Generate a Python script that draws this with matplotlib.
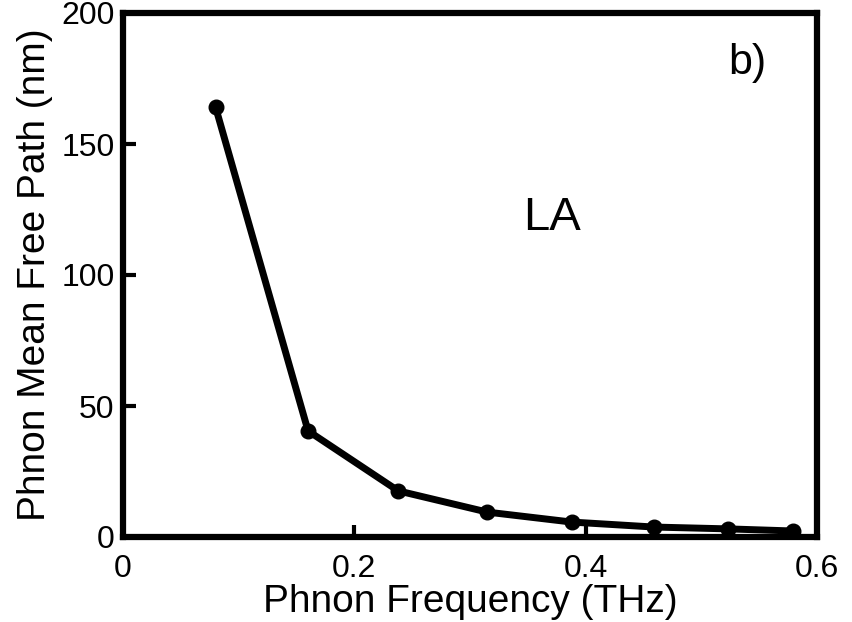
import matplotlib
matplotlib.use("Agg")
import matplotlib.pyplot as plt

freq = [0.080, 0.160, 0.238, 0.315, 0.388, 0.459, 0.523, 0.579]
mfp = [164.1, 40.5, 17.6, 9.5, 5.7, 3.8, 3.1, 2.3]
xticks = [0, 0.2, 0.4, 0.6]
xticklabels = ["0", "0.2", "0.4", "0.6"]
yticks = [0, 50, 100, 150, 200]
yticklabels = ["0", "50", "100", "150", "200"]

plt.rcParams['font.family'] = ['Liberation Sans', 'DejaVu Sans']

fig = plt.figure(figsize=(8.52, 6.22), dpi=100)
ax = fig.add_axes([123/852, 1-537/622, (817-123)/852, (537-13)/622])
ax.plot(freq, mfp, color='black', lw=5, marker='o', ms=10.5, solid_joinstyle='round')
ax.set_xlim(0, 0.6)
ax.set_ylim(0, 200)
ax.set_xticks(xticks)
ax.set_xticklabels(xticklabels)
ax.set_yticks(yticks)
ax.set_yticklabels(yticklabels)
for s in ax.spines.values():
    s.set_linewidth(4.5)
ax.tick_params(direction='in', length=9, width=3, labelsize=23)
ax.tick_params(axis='x', pad=12)
ax.tick_params(axis='y', pad=6)
ax.set_xlabel("Phnon Frequency (THz)", fontsize=28, labelpad=0)
ax.set_ylabel("Phnon Mean Free Path (nm)", fontsize=28, labelpad=6)
ax.text(0.371, 121.8, "LA", fontsize=34, ha='center', va='center')
ax.text(0.540, 181, "b)", fontsize=31, ha='center', va='center')
fig.savefig("out.png", dpi=100)
